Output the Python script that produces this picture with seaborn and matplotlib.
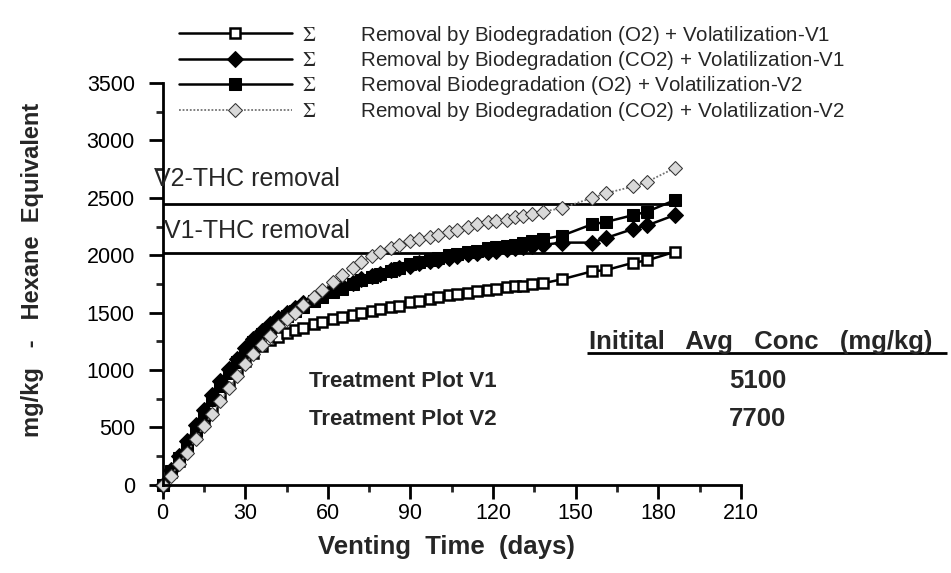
import matplotlib
matplotlib.use("Agg")
import matplotlib.pyplot as plt
import seaborn as sns

# sampling days (shared by all four series)
days = [0, 3, 6, 9, 12, 15, 18, 21, 24, 27, 30, 33, 36, 39, 42, 45, 48, 51, 55, 58,
        62, 65, 69, 72, 76, 79, 83, 86, 90, 93, 97, 100, 104, 107, 111, 114, 118, 121,
        125, 128, 131, 134, 138, 145, 156, 161, 171, 176, 186]

# cumulative removal, mg/kg hexane equivalent
o2_v1 = [0, 110, 210, 320, 440, 560, 680, 790, 900, 990, 1080, 1150, 1210, 1260, 1290, 1320,
         1350, 1370, 1400, 1420, 1440, 1460, 1480, 1500, 1515, 1530, 1545, 1560, 1590, 1600,
         1620, 1635, 1650, 1660, 1675, 1685, 1695, 1705, 1720, 1730, 1735, 1745, 1755, 1790,
         1860, 1870, 1935, 1955, 2030]
co2_v1 = [0, 130, 250, 380, 520, 650, 780, 900, 1010, 1100, 1190, 1270, 1340, 1400, 1450, 1500,
          1540, 1580, 1620, 1660, 1700, 1730, 1760, 1790, 1820, 1840, 1870, 1890, 1910, 1930,
          1950, 1960, 1980, 1990, 2010, 2020, 2030, 2040, 2050, 2060, 2070, 2080, 2090, 2110,
          2110, 2150, 2230, 2260, 2350]
o2_v2 = [0, 120, 230, 350, 480, 610, 740, 860, 970, 1070, 1160, 1240, 1310, 1370, 1420, 1470,
         1510, 1550, 1600, 1640, 1680, 1710, 1750, 1780, 1810, 1840, 1860, 1890, 1920, 1940,
         1960, 1980, 2000, 2010, 2030, 2040, 2060, 2070, 2080, 2090, 2110, 2120, 2140, 2170,
         2270, 2290, 2350, 2380, 2480]
co2_v2 = [0, 80, 180, 280, 400, 510, 620, 730, 840, 950, 1050, 1140, 1220, 1300, 1380, 1440,
          1500, 1570, 1640, 1700, 1770, 1830, 1890, 1940, 1990, 2030, 2060, 2090, 2120, 2140,
          2160, 2180, 2200, 2220, 2250, 2270, 2290, 2300, 2310, 2330, 2340, 2360, 2380, 2410,
          2500, 2540, 2600, 2640, 2760]

labels = [
    r"$\Sigma$        Removal by Biodegradation (O2) + Volatilization-V1",
    r"$\Sigma$        Removal by Biodegradation (CO2) + Volatilization-V1",
    r"$\Sigma$        Removal Biodegradation (O2) + Volatilization-V2",
    r"$\Sigma$        Removal by Biodegradation (CO2) + Volatilization-V2",
]

thc_v1 = 2020
thc_v2 = 2450
thc_end = 187

sns.set_theme(style="ticks")
plt.rcParams['font.family'] = ['Liberation Sans', 'DejaVu Sans']
plt.rcParams['mathtext.fontset'] = 'stix'

fig = plt.figure(figsize=(9.51, 5.73), dpi=100)
ax = fig.add_axes([0.171, 0.154, 0.608, 0.701])

ax.hlines([thc_v1, thc_v2], 0, thc_end, color="black", lw=2)

styles = [
    dict(marker="s", color="black", mfc="white", mec="black", ms=7.5, mew=1.8, lw=1.8),
    dict(marker="D", color="black", mfc="black", mec="black", ms=8, lw=1.8),
    dict(marker="s", color="black", mfc="black", mec="black", ms=8, lw=1.8),
    dict(marker="D", color="0.45", mfc="0.85", mec="0.2", ms=7.5, lw=1.3, ls=(0, (1, 1))),
]
for vals, lab, st in zip([o2_v1, co2_v1, o2_v2, co2_v2], labels, styles):
    sns.lineplot(x=days, y=vals, ax=ax, label=lab, estimator=None, sort=False,
                 clip_on=False, **st)

ax.set_xlim(0, 210)
ax.set_ylim(0, 3500)
ax.set_xticks(range(0, 211, 30))
ax.set_xticks(range(0, 211, 15), minor=True)
ax.set_yticks(range(0, 3501, 500))
ax.set_yticks(range(0, 3501, 250), minor=True)
ax.tick_params(axis="both", which="major", length=10, width=2, labelsize=15.5, colors="black")
ax.tick_params(axis="y", which="major", pad=10)
ax.tick_params(axis="x", which="major", pad=3)
ax.tick_params(axis="both", which="minor", length=5, width=2)
sns.despine(ax=ax)
for s in ["left", "bottom"]:
    ax.spines[s].set_linewidth(2)
    ax.spines[s].set_color("black")

ax.set_xlabel("Venting  Time  (days)", fontsize=18.5, fontweight="bold")
ax.xaxis.set_label_coords(0.49, -0.125)
ax.set_ylabel("mg/kg   -   Hexane  Equivalent", fontsize=17, fontweight="bold")
ax.yaxis.set_label_coords(-0.205, 0.535)

ax.text(-3, 2660, "V2-THC removal", fontsize=18, va="center")
ax.text(0.5, 2215, "V1-THC removal", fontsize=18, va="center")

ax.text(53, 900, "Treatment Plot V1", fontsize=16, fontweight="bold", va="center")
ax.text(53, 570, "Treatment Plot V2", fontsize=16, fontweight="bold", va="center")
ax.text(216, 905, "5100", fontsize=18.5, fontweight="bold", va="center", ha="center")
ax.text(216, 575, "7700", fontsize=18.5, fontweight="bold", va="center", ha="center")
ax.text(155, 1240, "Initital   Avg   Conc   (mg/kg)", fontsize=18.5, fontweight="bold",
        va="center", clip_on=False)
ax.hlines(1150, 154, 285, color="black", lw=2, clip_on=False)

leg = ax.legend(loc="upper left", bbox_to_anchor=(0.173, 0.984), bbox_transform=fig.transFigure,
                frameon=False, fontsize=14.8, handlelength=5.5, handletextpad=0.5,
                labelspacing=0.12, borderaxespad=0.3)

fig.savefig("out.png", dpi=100, facecolor="white")
